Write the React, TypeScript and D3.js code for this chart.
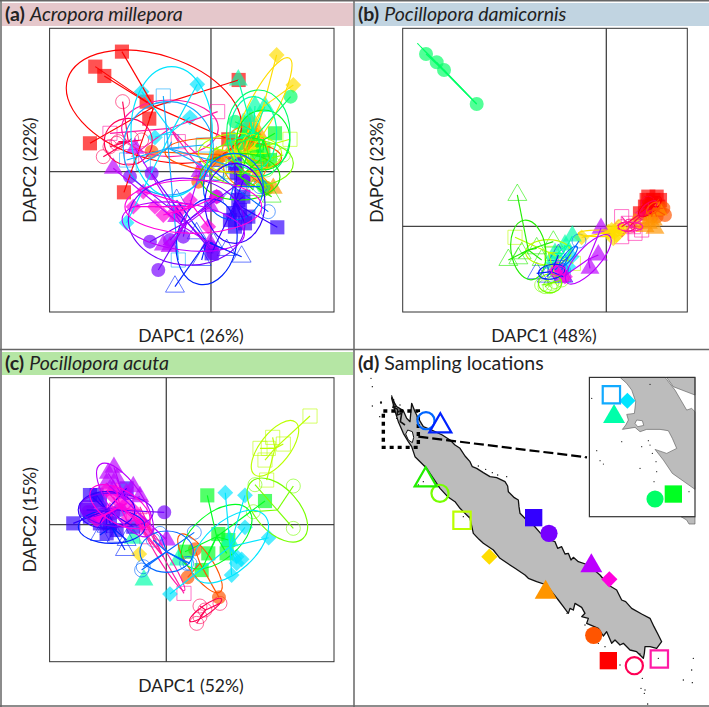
import React from "react";
import * as d3 from "d3";

// Sampling sites: colour and marker
const siteColors = ["#ff0000","#ff0055","#ff1aa6","#ff5500","#ff9500","#ffdd00","#bbff00","#77ff00","#22ee00","#00ff22","#00ff66","#00ffaa","#00e5ff","#11aaff","#0066ff","#0022ff","#3300ff","#7700ff","#bb00ff","#ff00dd"];
const siteShapes = ["square","circleOpen","squareOpen","circle","triangle","diamond","squareOpen","circleOpen","triangleOpen","square","circle","triangle","diamond","squareOpen","circleOpen","triangleOpen","square","circle","triangle","diamond"];

// Scores: [site, DAPC1, DAPC2]  (axis read-off units)
const scoresA: number[][] = [
[0,366,155],[0,286,200],[0,313,228],[0,440,305],[0,448,356],[0,270,430],[0,716,240],[0,372,577],[0,685,418],
[1,368,305],[1,310,470],[1,350,430],[1,425,420],[1,395,415],[1,355,425],[1,330,440],
[2,330,400],[2,535,425],[2,653,335],[2,395,470],[2,610,520],[2,650,520],
[3,455,455],[3,595,545],[3,650,480],[3,660,470],[3,800,565],[3,720,430],[3,760,400],
[4,750,365],[4,775,400],[4,790,490],[4,820,565],[4,650,470],[4,755,430],[4,745,380],[4,760,400],[4,730,420],[4,700,440],[4,770,530],
[5,830,165],[5,880,255],[5,760,450],[5,700,470],[5,735,445],
[6,870,418],[6,800,460],[6,610,440],[6,700,480],[6,720,470],[6,650,510],
[7,850,465],[7,800,565],[7,700,430],[7,760,470],[7,740,440],[7,800,510],[7,680,480],
[8,815,590],[8,760,570],[8,720,500],[8,780,480],[8,700,520],[8,740,470],
[9,825,400],[9,740,410],[9,790,450],[9,760,420],[9,810,480],[9,770,470],
[10,872,290],[10,705,365],[10,790,560],[10,740,400],[10,720,430],
[11,765,318],[11,795,320],[11,715,240],[11,730,370],[11,700,420],[11,750,350],
[12,425,275],[12,592,253],[12,570,352],[12,465,412],[12,380,668],
[13,490,288],[13,515,425],[13,610,435],[13,380,480],[13,535,780],[13,700,500],[13,430,490],[13,650,520],
[14,805,635],[14,780,560],[14,690,600],[14,650,520],[14,720,560],
[15,525,860],[15,725,770],[15,530,600],[15,605,780],[15,680,750],[15,590,700],[15,640,730],
[16,832,682],[16,745,650],[16,735,670],[16,705,680],[16,720,630],[16,730,590],[16,705,490],[16,635,760],[16,710,520],[16,700,640],[16,730,540],[16,690,660],[16,715,600],
[17,475,810],[17,450,725],[17,510,720],[17,550,710],[17,390,530],[17,455,520],[17,640,760],[17,730,540],[17,650,590],[17,630,740],
[18,340,505],[18,405,445],[18,490,735],[18,600,515],[18,630,730],[18,530,650],[18,630,620],[18,510,740],
[19,400,620],[19,430,575],[19,490,645],[19,465,620],[19,570,600],[19,625,680],[19,650,590],[19,520,640],[19,540,630],
];
// Class ellipses: [site, cx, cy, rx, ry, angle]
const ellipsesA: number[][] = [
[0,462,320,272,155,18],[1,385,425,72,70,0],[2,510,385,145,85,0],[3,670,465,175,50,3],[4,735,470,70,90,0],
[5,790,320,165,42,-62],[6,720,460,125,60,0],[7,750,490,130,70,0],[8,720,530,120,70,0],[9,790,420,80,90,0],
[10,775,400,95,130,0],[11,760,400,70,110,0],[12,515,395,122,195,0],[13,505,445,135,140,0],[14,700,560,90,100,0],
[15,620,725,90,130,10],[16,705,610,90,120,0],[17,560,665,175,130,5],[18,550,680,185,70,8],[19,580,620,205,80,0],
];

const scoresB: number[][] = [
[0,880,590],[0,915,600],[0,895,600],[0,870,620],[0,900,620],[0,855,640],[0,890,610],[0,910,620],[0,875,600],[0,905,590],[0,885,630],
[1,800,680],[1,880,610],[1,870,640],[1,860,650],[1,825,678],
[2,800,650],[2,820,670],[2,800,710],[2,840,700],[2,860,690],[2,835,680],[2,860,660],
[3,930,645],[3,905,650],[3,890,650],[3,915,630],[3,925,625],
[4,900,685],[4,870,680],[4,840,670],[4,895,660],[4,910,630],[4,880,670],
[5,680,712],[5,770,690],[5,785,705],[5,760,695],[5,800,690],[5,775,715],[5,790,680],[5,780,695],
[6,480,712],[6,655,790],[6,590,760],[6,620,760],[6,600,830],
[7,585,860],[7,570,860],[7,590,850],[7,620,840],[7,560,855],[7,600,845],
[8,487,585],[8,460,780],[8,490,775],[8,595,725],[8,545,745],[8,500,760],[8,560,780],
[10,213,162],[10,245,187],[10,267,210],[10,365,312],
[11,652,708],[11,630,735],[11,600,760],[11,590,790],
[12,640,800],[12,625,810],[12,650,770],
[13,600,810],[13,625,825],
[14,672,723],[14,600,810],[14,620,810],
[15,545,820],[15,610,765],[15,575,830],[15,625,830],
[18,738,685],[18,730,765],[18,705,805],[18,625,830],
[19,610,800],[19,630,830],[19,600,815],
];
const ellipsesB: number[][] = [
[0,885,620,42,18,-40],[1,880,625,32,14,-40],[1,815,680,25,14,0],[2,825,680,38,14,0],[3,895,625,24,14,-40],
[5,740,700,70,10,0],[6,580,757,68,38,0],[7,585,850,35,28,0],[8,520,750,52,90,-8],[10,276,221,128,1,45.7],
[11,625,760,30,12,-45],[14,640,770,40,12,-50],[15,590,815,40,22,-10],[18,700,778,95,35,-48],[19,610,812,22,14,0],
];

const scoresC: number[][] = [
[1,600,768],[1,660,760],[1,590,820],[1,600,800],[1,615,780],
[2,552,730],[2,420,470],[2,400,500],[2,430,510],[2,440,560],
[3,585,598],[3,563,682],[3,657,742],
[5,418,612],
[6,930,198],[6,818,262],[6,850,282],[6,780,295],[6,805,295],[6,795,330],[6,800,390],
[7,880,408],[7,765,404],[7,880,535],[7,760,485],
[9,622,436],[9,795,453],[9,655,552],[9,685,570],[9,625,610],[9,555,605],[9,605,660],[9,680,610],
[11,688,572],[11,400,565],[11,432,690],[11,535,630],
[12,676,428],[12,735,436],[12,735,532],[12,806,563],[12,710,620],[12,725,628],[12,695,675],[12,510,732],[12,710,640],
[14,583,547],[14,430,650],[14,480,550],[14,460,570],[14,570,640],[14,560,640],[14,425,660],
[15,375,600],[15,300,555],[15,350,560],[15,320,530],[15,380,570],
[16,220,520],[16,270,435],[16,290,435],[16,380,415],[16,260,480],[16,320,550],[16,330,520],[16,400,530],[16,300,450],[16,270,500],[16,300,520],[16,350,540],
[17,493,487],[17,265,485],[17,280,500],[17,320,500],[17,340,490],[17,360,480],[17,300,470],[17,260,470],
[18,342,352],[18,325,370],[18,500,570],[18,420,440],[18,350,385],[18,320,400],[18,380,430],[18,340,420],[18,400,410],
[19,290,510],[19,320,420],[19,340,440],[19,360,460],[19,380,460],[19,400,480],[19,420,510],[19,440,540],[19,300,500],[19,350,420],[19,330,480],[19,380,510],[19,430,520],
];
const ellipsesC: number[][] = [
[1,617,780,58,14,-35],[2,490,620,120,15,58],[3,600,640,105,35,55],[6,825,295,100,45,-52],[7,832,480,115,65,48],
[9,650,560,125,70,-40],[12,690,590,140,75,-42],[14,500,605,80,62,0],[15,335,530,100,50,0],[16,320,480,85,55,0],
[17,350,480,110,50,5],[18,375,450,130,50,55],[19,360,470,100,50,30],
];

// Map, read-off map units
const coast: number[][] = [[170,160],[180,185],[190,205],[205,230],[230,240],[262,255],[285,270],[300,285],[315,295],[330,318],[345,335],[352,350],[365,355],[385,368],[405,380],[425,383],[450,395],[458,408],[460,425],[478,443],[490,450],[492,470],[495,490],[520,515],[535,525],[555,548],[585,570],[600,575],[608,595],[620,590],[630,612],[640,610],[648,630],[655,622],[670,635],[700,645],[735,675],[760,705],[785,720],[800,750],[812,755],[830,775],[860,792],[885,805],[897,830],[910,855],[920,875],[905,895],[885,890],[870,890],[868,910],[865,925],[845,905],[825,900],[805,880],[795,885],[780,870],[770,880],[755,845],[745,858],[730,835],[695,820],[700,805],[680,800],[690,790],[680,772],[660,760],[655,780],[645,775],[640,790],[625,770],[610,750],[590,725],[575,705],[545,695],[520,685],[510,675],[480,655],[435,625],[415,600],[385,580],[372,568],[355,550],[345,505],[315,475],[300,455],[278,440],[255,415],[235,385],[215,355],[180,320],[170,290],[160,275],[145,250],[130,215],[122,190],[110,145],[125,170],[145,182],[155,205],[165,215]];
const coastBay: number[][] = [[158,240],[172,245],[176,262],[172,278],[160,270],[152,252]];
const northReef: number[][] = [[110,140],[118,160],[114,172],[128,178],[126,195],[140,190],[136,215],[150,225]];
const islets: number[][] = [[48,85],[52,110],[52,168],[78,160],[74,200],[125,205],[110,138],[135,165],[370,348],[392,358],[412,368],[428,375],[455,380],[520,490],[636,790],[690,825],[730,880],[750,890],[795,945],[862,985],[858,1015],[870,1020],[868,1030],[878,1062],[985,990],[1012,998],[1010,960],[1015,925],[910,925],[855,912],[345,500],[325,500],[205,395],[190,405]];
const bigIslets: number[][] = [[115,150],[120,170],[130,185],[78,157]];
// Inset, read-off inset units
const insetMain: number[][] = [[105,22],[125,40],[140,60],[152,95],[148,130],[125,133],[130,150],[122,165],[112,178],[150,172],[165,185],[185,178],[225,178],[250,182],[262,205],[275,235],[245,250],[210,238],[235,270],[262,310],[330,358],[330,125],[320,115],[305,120],[270,60],[240,22]];
const insetTop: number[][] = [[245,22],[265,50],[330,75],[330,22]];
const insetLake: number[][] = [[155,150],[172,152],[176,166],[158,170],[150,160]];
const insetFoot: number[][] = [[288,440],[305,450],[312,462],[330,462],[330,440]];
const insetIslets: number[][] = [[195,43],[20,85],[110,215],[35,242],[170,230],[190,212],[195,225],[202,250],[213,275],[165,295],[215,305],[207,335],[312,365],[0,262],[45,272],[55,282]];
const mapSites: number[][] = [[0,760,932],[1,838,947],[2,913,927],[3,716,856],[4,572,727],[5,403,620],[6,321,511],[7,255,430],[8,212,390],[14,213,212],[15,256,228],[16,536,503],[17,582,550],[18,709,648],[19,763,688]];
const insetSites: number[][] = [[9,265,372],[10,210,387],[11,87,140],[12,127,92],[13,79,74]];

const headers = ["(a)", "(b)", "(c)", "(d)"];
const headerNames = ["Acropora millepora", "Pocillopora damicornis", "Pocillopora acuta", "Sampling locations"];
const xLabels = ["DAPC1 (26%)", "DAPC1 (48%)", "DAPC1 (52%)"];
const yLabels = ["DAPC2 (22%)", "DAPC2 (23%)", "DAPC2 (15%)"];

const FONT = "Lato, sans-serif";
const INK = "#222";

function markerPath(shape: string, k: number) {
  const s = shape.replace("Open", "");
  const type = s === "circle" ? d3.symbolCircle : s === "triangle" ? d3.symbolTriangle : d3.symbolSquare;
  const size = s === "circle" ? 154 : s === "triangle" ? 155 : s === "diamond" ? 125 : 200;
  return d3.symbol().type(type).size(size * k)()!;
}

function Marker({ site, x, y, k = 1, alpha = 0.68, sw = 1 }: any) {
  const shape = siteShapes[site];
  const open = shape.endsWith("Open");
  const c = siteColors[site];
  const rot = shape === "diamond" ? ` rotate(45)` : "";
  return (
    <path d={markerPath(shape, k)} transform={`translate(${x},${y})${rot}`}
      fill={open ? "none" : c} fillOpacity={alpha} stroke={open ? c : "none"} strokeOpacity={alpha < 1 ? 0.6 : 1} strokeWidth={sw} />
  );
}

function Panel({ box, dom, cross, scores, ellipses, xl, yl, xlx, ylx, lid }: any) {
  const x = d3.scaleLinear().domain([dom[0], dom[1]]).range([box[0], box[1]]);
  const y = d3.scaleLinear().domain([dom[2], dom[3]]).range([box[2], box[3]]);
  const k = (box[1] - box[0]) / (dom[1] - dom[0]);
  const clipId = `clip-${lid}`;
  return (
    <g>
      <line x1={x(cross[0])} x2={x(cross[0])} y1={box[2]} y2={box[3]} stroke="#444" strokeWidth={1.3} />
      <line x1={box[0]} x2={box[1]} y1={y(cross[1])} y2={y(cross[1])} stroke="#444" strokeWidth={1.3} />
      {scores.map((d: number[], i: number) => <Marker key={i} site={d[0]} x={x(d[1])} y={y(d[2])} />)}
      <g clipPath={`url(#${clipId})`}>
        {ellipses.map((e: number[], i: number) => {
          const pts = scores.filter((d: number[]) => d[0] === e[0]);
          const first = ellipses.findIndex((o: number[]) => o[0] === e[0]) === i;
          return (
            <g key={i} stroke={siteColors[e[0]]} fill="none" strokeWidth={1.15}>
              <ellipse cx={x(e[1])} cy={y(e[2])} rx={e[3] * k} ry={e[4] * k}
                transform={`rotate(${e[5]} ${x(e[1])} ${y(e[2])})`} />
              {first && pts.map((p: number[], j: number) => (
                <line key={j} x1={x(e[1])} y1={y(e[2])} x2={x(p[1])} y2={y(p[2])} />
              ))}
            </g>
          );
        })}
      </g>
      <clipPath id={clipId}><rect x={box[0]} y={box[2]} width={box[1] - box[0]} height={box[3] - box[2]} /></clipPath>
      <rect x={box[0]} y={box[2]} width={box[1] - box[0]} height={box[3] - box[2]} fill="none" stroke="#333" strokeWidth={1} />
      <text x={xlx} y={box[3] + 30} fontFamily={FONT} fontSize={17.5} fill={INK} textAnchor="middle">{xl}</text>
      <text transform={`translate(${ylx},${(box[2] + box[3]) / 2}) rotate(-90)`} fontFamily={FONT} fontSize={17.5} fill={INK} textAnchor="middle">{yl}</text>
    </g>
  );
}

export default function App() {
  const mx = d3.scaleLinear().domain([0, 1062]).range([355, 709]);
  const my = d3.scaleLinear().domain([0, 1071]).range([350, 707]);
  const ix = d3.scaleLinear().domain([13, 330]).range([589.4, 695]);
  const iy = d3.scaleLinear().domain([22, 440]).range([377.4, 516.7]);
  const mapLine = d3.line<number[]>().x(d => mx(d[0])).y(d => my(d[1])).curve(d3.curveLinearClosed);
  const reefLine = d3.line<number[]>().x(d => mx(d[0])).y(d => my(d[1]));
  const insetLine = d3.line<number[]>().x(d => ix(d[0])).y(d => iy(d[1])).curve(d3.curveLinearClosed);
  const head = (i: number, hx: number, hy: number) => (
    <text x={hx} y={hy} fontFamily={FONT} fontSize={19.5} fill={INK}>
      <tspan fontWeight={700}>{headers[i]}</tspan>
      <tspan dx={5} fontStyle={i === 3 ? "normal" : "italic"}>{headerNames[i]}</tspan>
    </text>
  );
  return (
    <svg width={709} height={707} style={{ position: "absolute", left: 0, top: 0, display: "block" }}>
      <rect width={709} height={707} fill="#fff" />
      <rect x={2} y={3} width={351} height={23} fill="#e5c7cb" />
      <rect x={355} y={3} width={354} height={23} fill="#c1d4e1" />
      <rect x={2} y={352} width={351} height={23} fill="#b5e6a4" />
      <Panel lid="a" box={[49.6, 334, 28.3, 312]} dom={[149, 1002, 85, 936]} cross={[633, 515]} scores={scoresA} ellipses={ellipsesA} xl={xLabels[0]} yl={yLabels[0]} xlx={191} ylx={36} />
      <Panel lid="b" box={[402.7, 687.3, 28.3, 312]} dom={[143, 997, 85, 936]} cross={[754, 679]} scores={scoresB} ellipses={ellipsesB} xl={xLabels[1]} yl={yLabels[1]} xlx={544} ylx={383} />
      <Panel lid="c" box={[49.6, 334, 377.7, 661.7]} dom={[149, 1002, 83, 935]} cross={[499, 524]} scores={scoresC} ellipses={ellipsesC} xl={xLabels[2]} yl={yLabels[2]} xlx={191} ylx={36} />
      {head(0, 5, 21)}{head(1, 358, 21)}{head(2, 5, 370)}{head(3, 358, 370)}

      {/* map */}
      <path d={mapLine(coast)!} fill="#bcbcbc" stroke="#111" strokeWidth={1.3} strokeLinejoin="round" />
      <path d={mapLine(coastBay)!} fill="#fff" stroke="#111" strokeWidth={1} />
      <path d={reefLine(northReef)!} fill="none" stroke="#111" strokeWidth={1.6} />
      {islets.map((d, i) => <circle key={i} cx={mx(d[0])} cy={my(d[1])} r={0.7} fill="#111" />)}
      {bigIslets.map((d, i) => <circle key={i} cx={mx(d[0])} cy={my(d[1])} r={1.1} fill="#111" />)}
      <rect x={mx(85)} y={my(183)} width={mx(190) - mx(85)} height={my(292) - my(183)} fill="none" stroke="#000" strokeWidth={3.4} strokeDasharray="4 4" />
      <line x1={mx(190)} y1={my(260)} x2={mx(696)} y2={my(322)} stroke="#000" strokeWidth={2.2} strokeDasharray="10 4" />
      {mapSites.map((d, i) => <Marker key={i} site={d[0]} x={mx(d[1])} y={my(d[2])} k={siteShapes[d[0]].startsWith("triangle") ? 1.35 : siteShapes[d[0]].startsWith("diamond") ? 1.05 : 1.5} alpha={1} sw={2.2} />)}

      {/* inset */}
      <rect x={589.4} y={377.4} width={105.6} height={139.3} fill="#fff" />
      <path d={insetLine(insetMain)!} fill="#bcbcbc" stroke="#555" strokeWidth={0.6} />
      <path d={insetLine(insetTop)!} fill="#bcbcbc" stroke="#555" strokeWidth={0.6} />
      <path d={insetLine(insetLake)!} fill="#fff" stroke="#555" strokeWidth={0.6} />
      <path d={insetLine(insetFoot)!} fill="#bcbcbc" stroke="#555" strokeWidth={0.6} />
      {insetIslets.map((d, i) => <circle key={i} cx={ix(d[0])} cy={iy(d[1])} r={0.6} fill="#222" />)}
      {insetSites.map((d, i) => <Marker key={i} site={d[0]} x={ix(d[1])} y={iy(d[2])} k={siteShapes[d[0]].startsWith("triangle") ? 1.35 : siteShapes[d[0]].startsWith("diamond") ? 1.05 : 1.5} alpha={1} sw={2.2} />)}
      <rect x={589.4} y={377.4} width={105.6} height={139.3} fill="none" stroke="#333" strokeWidth={1.2} />

      {/* frame */}
      <g stroke="#666" strokeWidth={1.5}>
        <line x1={0} x2={709} y1={0.7} y2={0.7} />
        <line x1={0} x2={709} y1={349.5} y2={349.5} />
        <line x1={0} x2={709} y1={706} y2={706} />
        <line x1={1} x2={1} y1={0} y2={707} />
        <line x1={354} x2={354} y1={0} y2={707} />
      </g>
    </svg>
  );
}
